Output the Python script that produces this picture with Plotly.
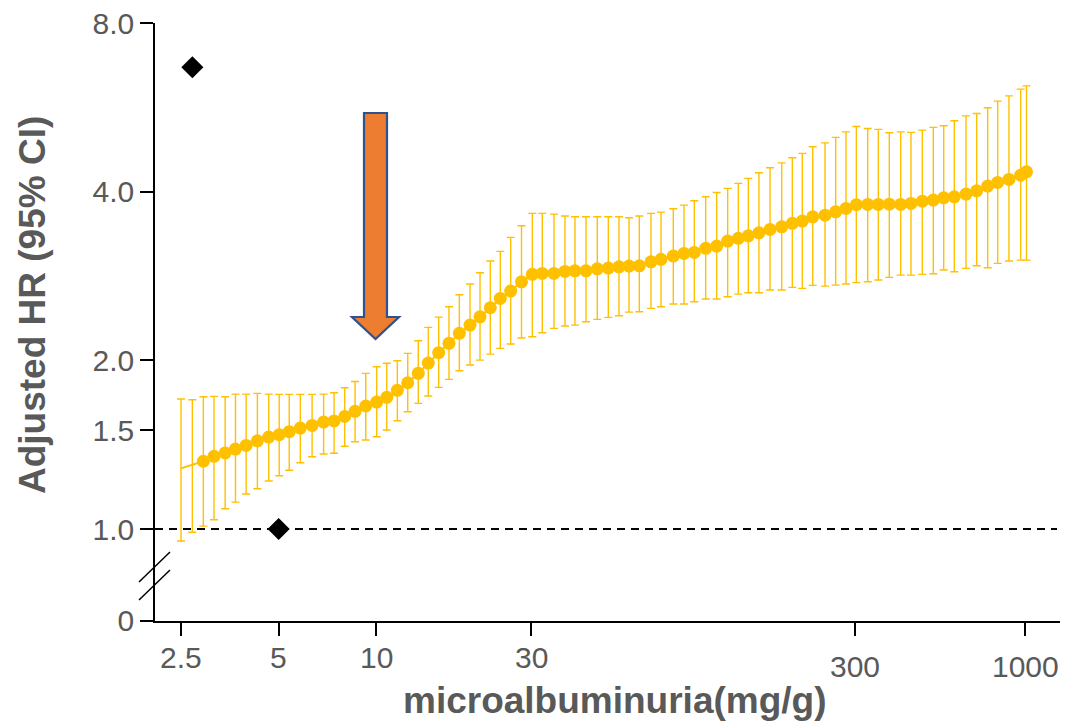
import numpy as np
import plotly.graph_objects as go

# ---------------- data ----------------
albumin = [2.5, 2.71, 2.93, 3.16, 3.42, 3.68, 3.97, 4.30, 4.66, 5.02,
           5.39, 5.83, 6.34, 6.88, 7.41, 7.99, 8.60, 9.28, 10.03, 10.77,
           11.61, 12.50, 13.47, 14.46, 15.57, 16.75, 18.03, 19.45, 20.88, 22.46,
           24.11, 25.96, 28.03, 30.26, 32.48, 35.30, 38.16, 40.97, 44.31, 48.00,
           51.90, 56.00, 60.11, 64.68, 70.28, 75.44, 82.33, 88.82, 95.55, 103.6,
           112.0, 121.1, 130.6, 140.2, 151.2, 163.6, 177.7, 191.6, 205.7, 221.5,
           241.7, 260.7, 280.5, 301.8, 327.2, 352.7, 381.4, 413.5, 444.9, 482.1,
           521.3, 561.2, 605.0, 657.5, 709.3, 766.8, 823.2, 891.8, 969.2, 1010]

hr = [1.283, 1.301, 1.321, 1.348, 1.367, 1.389, 1.410, 1.437, 1.459, 1.473,
      1.492, 1.514, 1.531, 1.552, 1.559, 1.588, 1.622, 1.658, 1.685, 1.718,
      1.768, 1.824, 1.896, 1.978, 2.064, 2.145, 2.235, 2.312, 2.392, 2.483,
      2.580, 2.659, 2.762, 2.848, 2.859, 2.859, 2.883, 2.890, 2.890, 2.914,
      2.922, 2.938, 2.947, 2.950, 2.999, 3.029, 3.070, 3.104, 3.117, 3.169,
      3.199, 3.265, 3.302, 3.337, 3.378, 3.426, 3.463, 3.512, 3.545, 3.608,
      3.633, 3.683, 3.735, 3.791, 3.797, 3.797, 3.801, 3.797, 3.812, 3.848,
      3.865, 3.901, 3.917, 3.961, 4.015, 4.093, 4.156, 4.207, 4.282, 4.341]

hr_upper = [1.706, 1.701, 1.722, 1.725, 1.722, 1.741, 1.741, 1.746, 1.741, 1.739,
            1.739, 1.739, 1.739, 1.741, 1.751, 1.787, 1.833, 1.896, 1.948, 1.976,
            1.997, 2.058, 2.168, 2.290, 2.389, 2.493, 2.619, 2.737, 2.867, 3.008,
            3.130, 3.315, 3.477, 3.659, 3.659, 3.648, 3.619, 3.608, 3.608, 3.608,
            3.608, 3.608, 3.593, 3.619, 3.659, 3.678, 3.729, 3.786, 3.853, 3.917,
            3.988, 4.055, 4.139, 4.225, 4.323, 4.413, 4.504, 4.598, 4.682, 4.811,
            4.890, 5.000, 5.116, 5.231, 5.188, 5.167, 5.096, 5.116, 5.104, 5.152,
            5.210, 5.244, 5.353, 5.463, 5.518, 5.647, 5.804, 5.932, 6.098, 6.181]

hr_lower = [0.952, 0.987, 1.012, 1.039, 1.087, 1.117, 1.155, 1.180, 1.218, 1.245,
            1.273, 1.313, 1.346, 1.361, 1.365, 1.405, 1.431, 1.442, 1.461, 1.502,
            1.560, 1.619, 1.676, 1.727, 1.790, 1.850, 1.916, 1.962, 2.002, 2.052,
            2.101, 2.139, 2.192, 2.204, 2.240, 2.281, 2.303, 2.312, 2.344, 2.367,
            2.386, 2.402, 2.439, 2.442, 2.476, 2.493, 2.521, 2.521, 2.544, 2.573,
            2.573, 2.597, 2.626, 2.640, 2.640, 2.670, 2.670, 2.700, 2.689, 2.722,
            2.714, 2.725, 2.737, 2.753, 2.762, 2.782, 2.813, 2.839, 2.839, 2.848,
            2.855, 2.899, 2.878, 2.919, 2.950, 2.926, 2.979, 3.008, 3.020, 3.020]

# reference diamonds
diamond_x = [2.71, 5.0]
diamond_y = [6.67, 1.0]

# ticks
x_tick_vals = [2.5, 5, 10, 30, 300, 1000]
x_tick_text = ["2.5", "5", "10", "30", "300", "1000"]
y_tick_vals = [0.6853, 1.0, 1.5, 2.0, 4.0, 8.0]
y_tick_text = ["0", "1.0", "1.5", "2.0", "4.0", "8.0"]

# ---------------- layout helpers ----------------
W, H = 1066, 724
ML, MR, MT, MB = 155, 6, 23, 103
PW, PH = W - ML - MR, H - MT - MB
X_RANGE = [0.3178, 3.1076]
Y_RANGE = [-0.1642, 0.9032]


def px_x(p):
    return (p - ML) / PW


def px_y(p):
    return (H - MB - p) / PH


TXT = "#595959"
FONT = "Liberation Sans, Arial, sans-serif"
GOLD = "#FFC000"

hr_a = np.array(hr)
up = np.array(hr_upper) - hr_a
dn = hr_a - np.array(hr_lower)
marker_sizes = [0, 0] + [13] * (len(hr) - 2)

fig = go.Figure()

# dashed reference line at HR = 1
fig.add_trace(go.Scatter(
    x=[10 ** X_RANGE[0], 10 ** (X_RANGE[0] + (1057 - ML) / PW * (X_RANGE[1] - X_RANGE[0]))],
    y=[1.0, 1.0], mode="lines",
    line=dict(color="black", width=1.8, dash="8px,6px"),
    hoverinfo="skip", showlegend=False))

fig.add_trace(go.Scatter(
    x=albumin, y=hr, mode="lines+markers",
    line=dict(color=GOLD, width=2),
    marker=dict(size=marker_sizes, color=GOLD, opacity=1, line=dict(width=0)),
    error_y=dict(type="data", symmetric=False, array=up, arrayminus=dn,
                 color=GOLD, thickness=1.4, width=4),
    showlegend=False))

fig.add_trace(go.Scatter(
    x=diamond_x, y=diamond_y, mode="markers",
    marker=dict(symbol="diamond", size=17, color="black"),
    showlegend=False))

# block arrow (decoration)
arrow_pts = [(364, 113), (387, 113), (387, 317), (399, 317), (375.5, 339),
             (352, 317), (364, 317)]
path = "M " + " L ".join(f"{px_x(a):.5f},{px_y(b):.5f}" for a, b in arrow_pts) + " Z"
shapes = [dict(type="path", xref="paper", yref="paper", path=path,
               fillcolor="#ED7D31", line=dict(color="#2F528F", width=2.2))]

# axis break marks
for (a0, b0, a1, b1) in [(139, 582, 170, 552), (139, 600, 170, 570)]:
    shapes.append(dict(type="line", xref="paper", yref="paper",
                       x0=px_x(a0), y0=px_y(b0), x1=px_x(a1), y1=px_y(b1),
                       line=dict(color="black", width=1.5)))

annotations = []
label_px_y = [657, 657, 657, 657, 666, 666]
for v, t, ly in zip(x_tick_vals, x_tick_text, label_px_y):
    annotations.append(dict(x=np.log10(v), y=px_y(ly), xref="x", yref="paper",
                            text=t, showarrow=False, xanchor="center", yanchor="middle",
                            font=dict(family=FONT, size=30, color=TXT)))

annotations.append(dict(x=px_x(614), y=px_y(723), xref="paper", yref="paper",
                        text="<b>microalbuminuria(mg/g)</b>", showarrow=False,
                        xanchor="center", yanchor="bottom",
                        font=dict(family=FONT, size=37, color=TXT)))
annotations.append(dict(x=px_x(32), y=px_y(305), xref="paper", yref="paper",
                        text="<b>Adjusted HR (95% CI)</b>", showarrow=False, textangle=-90,
                        xanchor="center", yanchor="middle",
                        font=dict(family=FONT, size=37, color=TXT)))

fig.update_layout(
    width=W, height=H,
    margin=dict(l=ML, r=MR, t=MT, b=MB, pad=0),
    paper_bgcolor="white", plot_bgcolor="white",
    shapes=shapes, annotations=annotations,
    xaxis=dict(type="log", range=X_RANGE, showline=True, linecolor="black", linewidth=1.5,
               ticks="outside", ticklen=13, tickwidth=1.5, tickcolor="black",
               tickmode="array", tickvals=x_tick_vals, showticklabels=False,
               showgrid=False, zeroline=False),
    yaxis=dict(type="log", range=Y_RANGE, showline=True, linecolor="black", linewidth=1.5,
               ticks="outside", ticklen=13, tickwidth=1.5, tickcolor="black",
               tickmode="array", tickvals=y_tick_vals, ticktext=y_tick_text,
               tickfont=dict(family=FONT, size=30, color=TXT),
               showgrid=False, zeroline=False),
)

fig.write_html("out.html")
